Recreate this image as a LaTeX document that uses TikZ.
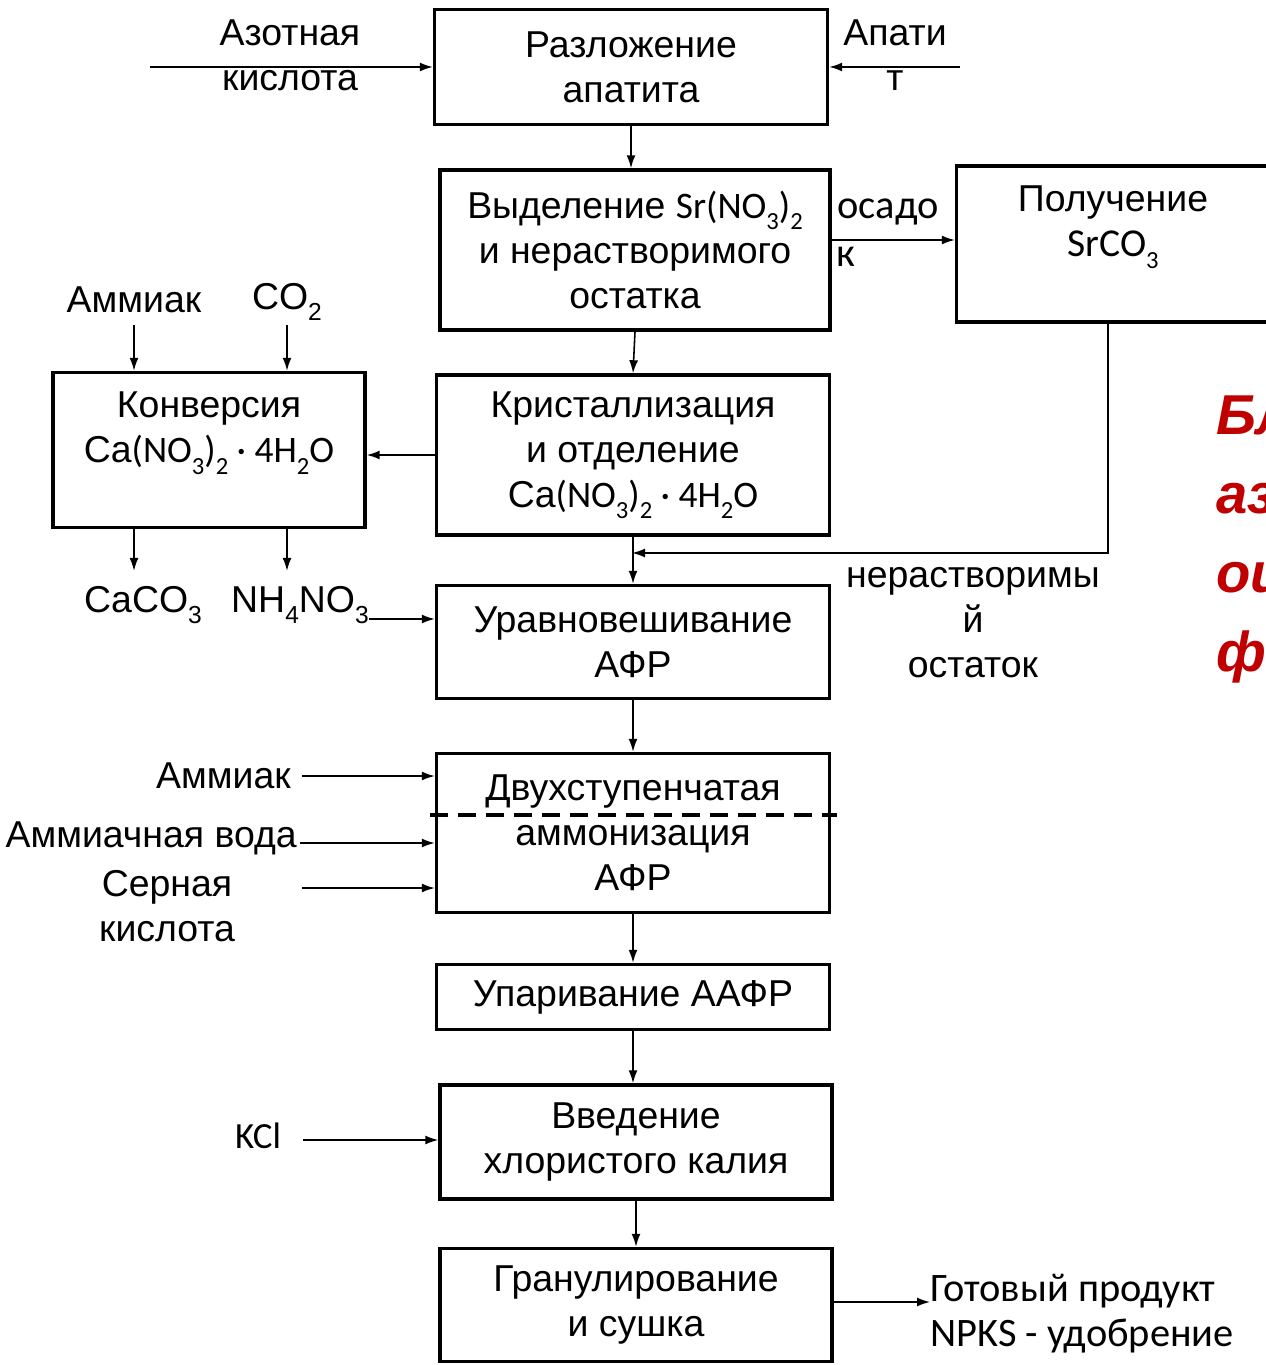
\documentclass[tikz,border=0pt]{standalone}
\usepackage{fontspec}
\setmainfont{Liberation Sans}
\newfontfamily\calib{Carlito}
\usetikzlibrary{positioning, arrows.meta}
\newcommand{\sbs}[1]{\raisebox{-0.3em}{\fontsize{14}{14}\selectfont #1}}
\definecolor{titlered}{HTML}{C00000}

\begin{document}
\begin{tikzpicture}[x=0.02cm, y=-0.02cm,
        every node/.style={align=center, inner sep=0pt, font=\fontsize{21.3}{25.6}\selectfont},
        box/.style={draw, line width=2pt, minimum width=7.86cm},
        calibri/.style={font=\calib\fontsize{23}{25.6}\selectfont},
        link/.style={-{Latex[length=2.6mm, width=1.8mm]}, line width=0.9pt},
        dashline/.style={line width=2pt, dash pattern=on 0.36cm off 0.2cm}
    ]
    \useasboundingbox (0,0) rectangle (1266,1365);

    % Main flow
    \node[box, minimum height=2.3cm] (razl) at (631,67) {Разложение\\апатита};
    \node[box, minimum width=7.8cm, minimum height=3.2cm] (vydel) at (635,250) {Выделение {\calib Sr(NO\sbs{3})\sbs{2}}\\и нерастворимого\\остатка};
    \node[box, minimum width=6.26cm, minimum height=3.12cm] (srco) at (1113,244) {Получение\\{\calib\fontsize{22.5}{25.6}\selectfont SrCO\sbs{3}}\\\mbox{}};
    \node[box, minimum height=3.2cm] (kryst) at (633,455) {Кристаллизация\\и отделение\\Ca{\calib(NO\sbs{3})\sbs{2} · 4H\sbs{2}O}};
    \node[box, minimum width=6.24cm, minimum height=3.1cm] (konv) at (209,450) {Конверсия\\Ca{\calib(NO\sbs{3})\sbs{2} · 4H\sbs{2}O}\\\mbox{}};
    \node[box, minimum height=2.26cm] (urav) at (633,642) {Уравновешивание\\АФР};
    \node[box, minimum height=3.18cm] (dvuh) at (633,833) {Двухступенчатая\\аммонизация\\АФР};
    \node[box, minimum height=1.3cm] (upar) at (633,997) {Упаривание ААФР};
    \node[box, minimum width=7.84cm, minimum height=2.28cm] (vved) at (636,1142) {Введение\\хлористого калия};
    \node[box, minimum width=7.84cm, minimum height=2.26cm] (gran) at (636,1305) {Гранулирование\\и сушка};

    % Inputs and outputs
    \node (azot) at (290,55) {Азотная\\кислота};
    \coordinate (azotin) at (150,67);
    \node (apat) at (895,55) {Апати\\т};
    \coordinate (apatin) at (960,67);
    \node[calibri] (osad) at (888,212) {осадо};
    \node[calibri] (osadk) at (846,257) {к};
    \node (amm1) at (134,300) {Аммиак};
    \node (co2) at (287,302) {CO\sbs{2}};
    \node (caco) at (143,605) {CaCO\sbs{3}};
    \node (nhno) at (300,605) {NH\sbs{4}NO\sbs{3}};
    \node (nerast) at (973,623) {нерастворимы\\й\\остаток};
    \coordinate (join) at (632,553);
    \node[anchor=east] (amm2) at (291,776) {Аммиак};
    \node[anchor=east] (ammw) at (297,838) {Аммиачная вода};
    \node (sern) at (167,906) {Серная\\кислота};
    \coordinate (sernin) at (302,888);
    \node[font=\calib\fontsize{21}{25.6}\selectfont] (kcl) at (258,1136) {KCl};
    \node[calibri, anchor=west, align=left] (prod) at (930,1314) {Готовый продукт\\NPKS - удобрение};

    % Title (cut off at the edge)
    \node[anchor=north west, align=left, text=titlered, font=\fontsize{32}{45}\selectfont\bfseries\itshape] (title) at (1216,395) {Бл\\аз\\ои\\фи};

    % Connectors
    \draw[link] (azotin) -- (razl.west);
    \draw[link] (apatin) -- (razl.east);
    \draw[link] (razl.south) -- (razl.south |- vydel.north);
    \draw[link] (vydel.east |- 0,240) -- (srco.west |- 0,240);
    \draw[link] (vydel.south) -- (kryst.north);
    \draw[link] (kryst.west) -- (kryst.west -| konv.east);
    \draw[link] ([yshift=-0.24cm]amm1.south) -- (amm1.south |- konv.north);
    \draw[link] ([yshift=-0.24cm]amm1.south -| co2) -- (co2 |- konv.north);
    \draw[link] (konv.south -| amm1) -- ([yshift=0.3cm]caco.north -| amm1);
    \draw[link] (konv.south -| co2) -- ([yshift=0.3cm]nhno.north -| co2);
    \draw[link] ([yshift=-0.28cm]nhno.east) -- ([yshift=-0.28cm]nhno.east -| urav.west);
    \draw[link] (srco.south -| 1108,0) |- (join);
    \draw[link] (kryst.south) -- (kryst.south |- urav.north);
    \draw[link] (urav.south) -- (dvuh.north);
    \draw[link] ([xshift=0.22cm]amm2.east) -- (amm2.east -| dvuh.west);
    \draw[link] ([xshift=0.06cm, yshift=-0.1cm]ammw.east) -- ([yshift=-0.1cm]ammw.east -| dvuh.west);
    \draw[link] (sernin) -- (sernin -| dvuh.west);
    \draw[dashline] ([xshift=-0.1cm]dvuh.west |- 0,815) -- ([xshift=0.12cm]dvuh.east |- 0,815);
    \draw[link] (dvuh.south) -- (upar.north);
    \draw[link] (upar.south) -- (upar.south |- vved.north);
    \draw[link] ([xshift=0.44cm, yshift=-0.08cm]kcl.east) -- ([yshift=-0.08cm]kcl.east -| vved.west);
    \draw[link] (vved.south) -- (gran.north);
    \draw[link] (gran.east |- 0,1302) -- (prod.west |- 0,1302);

\end{tikzpicture}
\end{document}
